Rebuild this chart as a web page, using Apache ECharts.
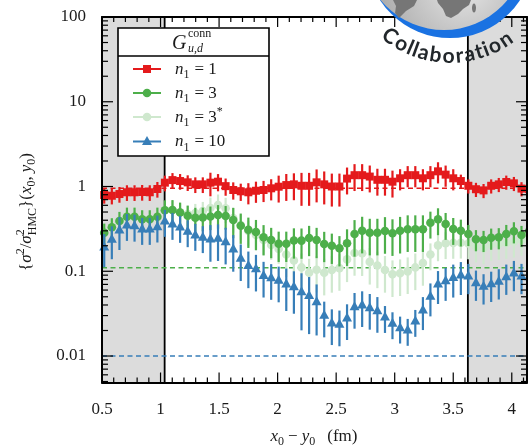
<!DOCTYPE html>
<html>
<head>
<meta charset="utf-8">
<script src="https://cdn.jsdelivr.net/npm/echarts@6/dist/echarts.min.js"></script>
<style>
  html, body { margin: 0; padding: 0; background: #fff; }
  #chart { width: 528px; height: 446px; }
</style>
</head>
<body>
<div id="chart"></div>
<script>
// ---- data -------------------------------------------------------------
// separations x0 - y0 (fm)
const separation = [0.519,0.584,0.649,0.713,0.778,0.843,0.908,0.973,1.037,1.102,1.167,1.232,1.297,1.361,1.426,1.491,1.556,1.621,1.685,1.750,1.815,1.880,1.945,2.009,2.074,2.139,2.204,2.269,2.333,2.398,2.463,2.528,2.593,2.657,2.722,2.787,2.852,2.917,2.981,3.046,3.111,3.176,3.241,3.305,3.370,3.435,3.500,3.565,3.629,3.694,3.759,3.824,3.889,3.953,4.018,4.083,4.148];

// variance ratio sigma^2 / sigma^2_HMC, with relative errors
const ratioN1 = [0.794,0.778,0.815,0.855,0.855,0.861,0.855,0.935,1.11,1.19,1.16,1.12,1.06,1.06,1.11,1.14,1.01,0.91,0.878,0.855,0.891,0.91,0.952,0.995,1.04,1.06,1.02,1.02,1.12,1.06,1.00,1.00,1.24,1.36,1.36,1.31,1.20,1.20,1.14,1.25,1.36,1.36,1.25,1.36,1.51,1.38,1.25,1.16,1.02,0.929,0.90,1.02,1.06,1.13,1.09,0.945,0.93];
const relErrN1 = [0.21,0.21,0.21,0.21,0.21,0.21,0.21,0.21,0.21,0.21,0.21,0.21,0.21,0.21,0.31,0.23,0.23,0.23,0.23,0.28,0.28,0.28,0.28,0.35,0.35,0.35,0.42,0.42,0.42,0.42,0.42,0.42,0.35,0.35,0.35,0.35,0.35,0.35,0.35,0.28,0.28,0.28,0.28,0.28,0.28,0.28,0.28,0.19,0.19,0.19,0.19,0.19,0.19,0.19,0.19,0.19,0.19];

const ratioN3 = [0.285,0.330,0.392,0.440,0.440,0.410,0.410,0.440,0.524,0.528,0.493,0.452,0.428,0.430,0.443,0.461,0.449,0.402,0.345,0.309,0.290,0.252,0.234,0.211,0.211,0.231,0.230,0.247,0.234,0.210,0.200,0.187,0.214,0.275,0.301,0.285,0.285,0.298,0.281,0.300,0.313,0.313,0.313,0.374,0.410,0.361,0.315,0.301,0.275,0.239,0.234,0.249,0.252,0.275,0.296,0.268,0.298];
const relErrN3 = [0.28,0.28,0.28,0.28,0.28,0.28,0.28,0.28,0.31,0.31,0.31,0.31,0.31,0.31,0.31,0.31,0.31,0.39,0.39,0.39,0.39,0.39,0.39,0.39,0.39,0.39,0.39,0.39,0.39,0.39,0.39,0.39,0.46,0.46,0.46,0.46,0.46,0.46,0.46,0.46,0.46,0.46,0.46,0.35,0.35,0.35,0.35,0.35,0.28,0.28,0.28,0.28,0.28,0.28,0.28,0.28,0.28];

const ratioN3star = [0.285,0.330,0.392,0.440,0.440,0.410,0.410,0.440,0.528,0.528,0.495,0.473,0.487,0.514,0.557,0.605,0.553,0.425,0.351,0.298,0.268,0.234,0.204,0.183,0.158,0.134,0.111,0.0961,0.104,0.0961,0.1035,0.109,0.138,0.164,0.163,0.129,0.117,0.1035,0.092,0.0946,0.0998,0.111,0.125,0.158,0.202,0.214,0.216,0.217,0.213,0.195,0.187,0.204,0.210,0.216,0.223,0.234,0.234];
const relErrN3star = [0.28,0.28,0.28,0.28,0.28,0.28,0.28,0.28,0.28,0.28,0.28,0.28,0.28,0.28,0.33,0.33,0.33,0.33,0.33,0.33,0.33,0.33,0.33,0.33,0.46,0.46,0.46,0.46,0.46,0.46,0.46,0.46,0.46,0.46,0.46,0.46,0.46,0.46,0.46,0.46,0.46,0.46,0.46,0.35,0.35,0.35,0.35,0.35,0.35,0.35,0.35,0.35,0.35,0.35,0.35,0.35,0.35];

const ratioN10 = [0.193,0.239,0.307,0.351,0.344,0.315,0.315,0.336,0.392,0.361,0.333,0.296,0.268,0.252,0.240,0.245,0.223,0.183,0.142,0.117,0.107,0.0891,0.0837,0.0782,0.0708,0.0657,0.0574,0.0518,0.0437,0.0302,0.0245,0.0237,0.0281,0.0382,0.0400,0.0372,0.0342,0.0288,0.0243,0.0216,0.0203,0.0259,0.0349,0.0506,0.0708,0.0771,0.0844,0.0904,0.0879,0.0733,0.0664,0.0711,0.0761,0.0863,0.0953,0.0879,0.0863];
const relErrN10 = [0.42,0.42,0.42,0.35,0.35,0.35,0.35,0.35,0.35,0.35,0.35,0.35,0.35,0.35,0.46,0.46,0.46,0.46,0.46,0.46,0.46,0.45,0.45,0.45,0.52,0.52,0.65,0.65,0.6,0.45,0.45,0.45,0.45,0.45,0.45,0.45,0.45,0.35,0.35,0.35,0.35,0.35,0.42,0.42,0.42,0.42,0.42,0.42,0.39,0.39,0.39,0.39,0.39,0.39,0.39,0.39,0.39];

// reference levels (dashed) and the edges of the shaded regions
const refLevels = [0.955, 0.11, 0.01];
const shadeEdges = [1.035, 3.625];

// axis ranges and tick labels
const xMin = 0.5, xMax = 4.13;
const yMin = 0.00487, yMax = 100;
const xTickLabels = [0.5, 1, 1.5, 2, 2.5, 3, 3.5, 4];
const yTickLabels = [0.01, 0.1, 1, 10, 100];

const seriesNames = ['n1 = 1', 'n1 = 3', 'n1 = 3*', 'n1 = 10'];

// ---- styling ----------------------------------------------------------
const RED = '#e41a1c', GREEN = '#4daf4a', PALE = '#cfe8ce', BLUE = '#377eb8';
const SHADE = '#dcdcdc';
const SERIF = '"Liberation Serif","DejaVu Serif",serif';

// minor tick positions (0.1 steps on x, 2..9 per decade on y)
const xMinorTicks = [];
for (let i = 5; i <= 41; i++) if (i % 5) xMinorTicks.push(i / 10);
const yMinorTicks = [];
[0.001, 0.01, 0.1, 1, 10].forEach(d => {
  for (let k = 2; k <= 9; k++) {
    const v = +(k * d).toPrecision(2);
    if (v >= yMin && v <= yMax) yMinorTicks.push(v);
  }
});

// ---- text helpers -----------------------------------------------------
const measureCtx = document.createElement('canvas').getContext('2d');
function textWidth(t, font) { measureCtx.font = font; return measureCtx.measureText(t).width; }
function fnt(size, italic) { return (italic ? 'italic ' : '') + size + 'px ' + SERIF; }

// tokens: [text, size, italic, baselineShift, mode, gapBefore]
function layoutRun(tokens, fill) {
  let x = 0, stackW = 0;
  const els = [];
  tokens.forEach(tk => {
    const [t, size, it, dy = 0, mode = '', gap = 0] = tk;
    const font = fnt(size, it);
    const w = textWidth(t, font);
    els.push({
      type: 'text', x: x + gap, y: dy - 0.33 * size,
      style: { text: t, font: font, fill: fill, textAlign: 'left', textVerticalAlign: 'middle', align: 'left', verticalAlign: 'middle' }
    });
    if (mode === 'stack') stackW = Math.max(stackW, w + gap);
    else { x += Math.max(w + gap, stackW); stackW = 0; }
  });
  return { els, width: x };
}
function placeRun(tokens, x, baseline, fill, anchor) {
  const r = layoutRun(tokens, fill);
  const off = anchor === 'center' ? -r.width / 2 : 0;
  r.els.forEach(e => { e.x += x + off; e.y += baseline; });
  return r.els;
}

// ---- error-bar series -------------------------------------------------
function marker(shape, p, color) {
  const [x, y] = p;
  if (shape === 'square') return { type: 'rect', shape: { x: x - 4, y: y - 4, width: 8, height: 8 }, style: { fill: color } };
  if (shape === 'circle') return { type: 'circle', shape: { cx: x, cy: y, r: 4.3 }, style: { fill: color } };
  return { type: 'polygon', shape: { points: [[x, y - 5.5], [x + 5, y + 3.5], [x - 5, y + 3.5]] }, style: { fill: color } };
}
function errorSeries(name, vals, rel, color, shape, z) {
  return {
    type: 'custom', name: name, z: z, xAxisIndex: 0, yAxisIndex: 0, clip: false,
    data: vals.map((v, i) => [separation[i], v, v * (1 - rel[i]), v * (1 + rel[i])]),
    encode: { x: 0, y: 1 },
    renderItem(params, api) {
      const x = api.value(0), v = api.value(1);
      const lo = Math.max(api.value(2), yMin), hi = Math.min(api.value(3), yMax);
      const p = api.coord([x, v]), pLo = api.coord([x, lo]), pHi = api.coord([x, hi]);
      return {
        type: 'group',
        children: [
          { type: 'line', shape: { x1: p[0], y1: pLo[1], x2: p[0], y2: pHi[1] }, style: { stroke: color, lineWidth: 2.2 } },
          marker(shape, p, color)
        ]
      };
    }
  };
}

// inward tick marks on all four sides, placed through the axis scales
function tickSeries(axis, values, majorSet, majorLen, minorLen) {
  return {
    type: 'custom', name: axis + 'ticks', z: 9, xAxisIndex: 0, yAxisIndex: 0, clip: false, silent: true,
    data: values.map(v => [axis === 'x' ? v : xMin, axis === 'y' ? v : yMin, majorSet.indexOf(v) >= 0 ? majorLen : minorLen]),
    encode: { x: 0, y: 1 },
    renderItem(params, api) {
      const cs = params.coordSys;
      const len = api.value(2);
      const st = { stroke: '#000', lineWidth: 1.2 };
      if (axis === 'x') {
        const x = api.coord([api.value(0), yMin])[0];
        return { type: 'group', children: [
          { type: 'line', shape: { x1: x, y1: cs.y + cs.height, x2: x, y2: cs.y + cs.height - len }, style: st },
          { type: 'line', shape: { x1: x, y1: cs.y, x2: x, y2: cs.y + len }, style: st }
        ] };
      }
      const y = api.coord([xMin, api.value(1)])[1];
      return { type: 'group', children: [
        { type: 'line', shape: { x1: cs.x, y1: y, x2: cs.x + len, y2: y }, style: st },
        { type: 'line', shape: { x1: cs.x + cs.width, y1: y, x2: cs.x + cs.width - len, y2: y }, style: st }
      ] };
    }
  };
}

// ---- axes -------------------------------------------------------------
function xAx(pos, withLabels) {
  return {
    type: 'value', position: pos, min: xMin, max: xMax, z: 8,
    axisLine: { show: true, onZero: false, lineStyle: { color: '#000', width: 2 } },
    axisTick: { show: false },
    axisLabel: withLabels ? {
      show: true, customValues: xTickLabels, margin: 19, color: '#1a1a1a',
      fontFamily: SERIF, fontSize: 17, formatter: v => String(+(+v).toPrecision(3))
    } : { show: false },
    splitLine: { show: false }
  };
}
function yAx(pos, withLabels) {
  return {
    type: 'log', logBase: 10, position: pos, min: yMin, max: yMax, z: 8,
    axisLine: { show: true, onZero: false, lineStyle: { color: '#000', width: 2 } },
    axisTick: { show: false },
    axisLabel: withLabels ? {
      show: true, customValues: yTickLabels, margin: 16, color: '#1a1a1a',
      fontFamily: SERIF, fontSize: 17, formatter: v => String(+(+v).toPrecision(3))
    } : { show: false },
    splitLine: { show: false }, minorTick: { show: false }
  };
}

// ---- decorations: legend, axis titles, logo --------------------------
const graphics = [];

// y-axis title, rotated
(function () {
  const r = layoutRun([
    ['{', 17, false], ['σ', 17, true], ['2', 12, false, -7.5],
    ['/', 17, false], ['σ', 17, true], ['2', 12, false, -7.5, 'stack'], ['HMC', 12, false, 4.5],
    ['}', 17, false], ['(', 17, false], ['x', 17, true], ['0', 12, false, 4],
    [',', 17, false], ['y', 17, true, 0, '', 4], ['0', 12, false, 4], [')', 17, false]
  ], '#1a1a1a');
  r.els.forEach(e => { e.x -= r.width / 2; });
  graphics.push({ type: 'group', x: 32, y: 212, rotation: Math.PI / 2, z: 20, children: r.els });
})();

// x-axis title
placeRun([
  ['x', 17, true], ['0', 12, false, 4], ['−', 17, false, 0, '', 4], ['y', 17, true, 0, '', 4],
  ['0', 12, false, 4], ['(fm)', 17, false, 0, '', 12]
], 314, 442, '#1a1a1a', 'center').forEach(e => { e.z = 20; graphics.push(e); });

// legend box
const LX = 118, LY = 28, LW = 151, LH = 128, LDIV = 56;
graphics.push({ type: 'rect', z: 20, shape: { x: LX, y: LY, width: LW, height: LH }, style: { fill: '#fff', stroke: '#000', lineWidth: 1.6 } });
graphics.push({ type: 'line', z: 21, shape: { x1: LX, y1: LDIV, x2: LX + LW, y2: LDIV }, style: { stroke: '#000', lineWidth: 1.4 } });
graphics.push({ type: 'text', z: 21, x: 172, y: 50 - 0.33 * 20, style: { text: 'G', font: fnt(20, true), fill: '#1a1a1a', textAlign: 'left', textVerticalAlign: 'middle', align: 'left', verticalAlign: 'middle' } });
graphics.push({ type: 'text', z: 21, x: 188, y: 38 - 0.33 * 12, style: { text: 'conn', font: fnt(12, false), fill: '#1a1a1a', textAlign: 'left', textVerticalAlign: 'middle', align: 'left', verticalAlign: 'middle' } });
graphics.push({ type: 'text', z: 21, x: 188, y: 53 - 0.33 * 12, style: { text: 'u,d', font: fnt(12, true), fill: '#1a1a1a', textAlign: 'left', textVerticalAlign: 'middle', align: 'left', verticalAlign: 'middle' } });

const legendRows = [
  { y: 69, color: RED, shape: 'square', label: [['n', 17, true], ['1', 12, false, 4], ['= 1', 17, false, 0, '', 5]] },
  { y: 93, color: GREEN, shape: 'circle', label: [['n', 17, true], ['1', 12, false, 4], ['= 3', 17, false, 0, '', 5]] },
  { y: 117, color: PALE, shape: 'circle', label: [['n', 17, true], ['1', 12, false, 4], ['= 3', 17, false, 0, '', 5], ['*', 12, false, -7]] },
  { y: 141.5, color: BLUE, shape: 'triangle', label: [['n', 17, true], ['1', 12, false, 4], ['= 10', 17, false, 0, '', 5]] }
];
legendRows.forEach(row => {
  graphics.push({ type: 'line', z: 21, shape: { x1: 133, y1: row.y, x2: 161, y2: row.y }, style: { stroke: row.color, lineWidth: 2 } });
  const m = marker(row.shape, [147, row.y], row.color); m.z = 22; graphics.push(m);
  placeRun(row.label, 175, row.y + 6, '#1a1a1a', 'left').forEach(e => { e.z = 21; graphics.push(e); });
});

// collaboration logo: globe with curved lettering
(function () {
  graphics.push({ type: 'circle', z: 30, shape: { cx: 450, cy: -45.5, r: 83.5 }, style: { fill: '#1a72e2' } });
  graphics.push({
    type: 'circle', z: 31, shape: { cx: 444, cy: -52, r: 82 },
    style: { fill: new echarts.graphic.RadialGradient(0.62, 0.72, 0.75, [
      { offset: 0, color: '#e6e6e6' }, { offset: 0.6, color: '#b4b4b4' }, { offset: 1, color: '#8e8e8e' }
    ]) }
  });
  const land = '#767676';
  graphics.push({ type: 'polygon', z: 32, shape: { points: [[437, 0], [471, 0], [469, 5], [463, 9], [458, 14], [451, 18], [446, 16], [443, 9], [438, 3]] }, style: { fill: land } });
  graphics.push({ type: 'ellipse', z: 32, shape: { cx: 474, cy: 8, rx: 2, ry: 4.5 }, style: { fill: land } });
  graphics.push({ type: 'polygon', z: 32, shape: { points: [[393, 0], [417, 0], [414, 6], [406, 11], [399, 18], [395, 13], [396, 6]] }, style: { fill: land } });

  const word = 'Collaboration';
  const font = 'bold 21px Lato, "Open Sans", sans-serif';
  const widths = word.split('').map(c => textWidth(c, font));
  const centers = [];
  let acc = 0;
  widths.forEach(w => { centers.push(acc + w / 2); acc += w; });
  const a0 = 126.5, a1 = 56.5, cx = 450, cy = -45, R = 101;
  word.split('').forEach((c, i) => {
    const t = (centers[i] - centers[0]) / (centers[centers.length - 1] - centers[0]);
    const ang = (a0 + (a1 - a0) * t) * Math.PI / 180;
    graphics.push({
      type: 'text', z: 33,
      x: cx + R * Math.cos(ang), y: cy + R * Math.sin(ang),
      rotation: Math.PI / 2 - ang,
      style: { text: c, font: font, fill: '#22272b', textAlign: 'center', textVerticalAlign: 'middle', align: 'center', verticalAlign: 'middle' }
    });
  });
})();

// ---- option -----------------------------------------------------------
const option = {
  animation: false,
  backgroundColor: '#fff',
  grid: { left: 102, top: 17, right: 1, bottom: 63.5, outerBoundsMode: 'none', containLabel: false },
  xAxis: [xAx('bottom', true), xAx('top', false)],
  yAxis: [yAx('left', true), yAx('right', false)],
  series: [
    {
      type: 'custom', name: 'shade', z: 1, xAxisIndex: 0, yAxisIndex: 0, silent: true,
      data: [[xMin, shadeEdges[0]], [shadeEdges[1], xMax]],
      encode: { x: [0, 1] },
      renderItem(params, api) {
        const p0 = api.coord([api.value(0), yMax]), p1 = api.coord([api.value(1), yMin]);
        return { type: 'rect', shape: { x: p0[0], y: p0[1], width: p1[0] - p0[0], height: p1[1] - p0[1] }, style: { fill: SHADE } };
      }
    },
    {
      type: 'custom', name: 'edges', z: 2, xAxisIndex: 0, yAxisIndex: 0, silent: true,
      data: shadeEdges.map(x => [x]),
      encode: { x: 0 },
      renderItem(params, api) {
        const p0 = api.coord([api.value(0), yMax]), p1 = api.coord([api.value(0), yMin]);
        return { type: 'line', shape: { x1: p0[0], y1: p0[1], x2: p1[0], y2: p1[1] }, style: { stroke: '#000', lineWidth: 1.8 } };
      }
    },
    {
      type: 'custom', name: 'levels', z: 2, xAxisIndex: 0, yAxisIndex: 0, silent: true,
      data: refLevels.map(v => [xMin, v]),
      encode: { x: 0, y: 1 },
      renderItem(params, api) {
        const colors = [RED, GREEN, BLUE];
        const p0 = api.coord([xMin, api.value(1)]), p1 = api.coord([xMax, api.value(1)]);
        return { type: 'line', shape: { x1: p0[0], y1: p0[1], x2: p1[0], y2: p1[1] }, style: { stroke: colors[params.dataIndex], lineWidth: 1.4, lineDash: [5, 3.5] } };
      }
    },
    errorSeries(seriesNames[0], ratioN1, relErrN1, RED, 'square', 3),
    errorSeries(seriesNames[2], ratioN3star, relErrN3star, PALE, 'circle', 4),
    errorSeries(seriesNames[1], ratioN3, relErrN3, GREEN, 'circle', 5),
    errorSeries(seriesNames[3], ratioN10, relErrN10, BLUE, 'triangle', 6),
    tickSeries('x', xTickLabels.concat(xMinorTicks), xTickLabels, 10, 5),
    tickSeries('y', yTickLabels.concat(yMinorTicks), yTickLabels, 11, 6)
  ],
  graphic: { elements: graphics }
};

const chart = echarts.init(document.getElementById('chart'), null, { renderer: 'canvas' });
chart.setOption(option);
</script>
</body>
</html>
